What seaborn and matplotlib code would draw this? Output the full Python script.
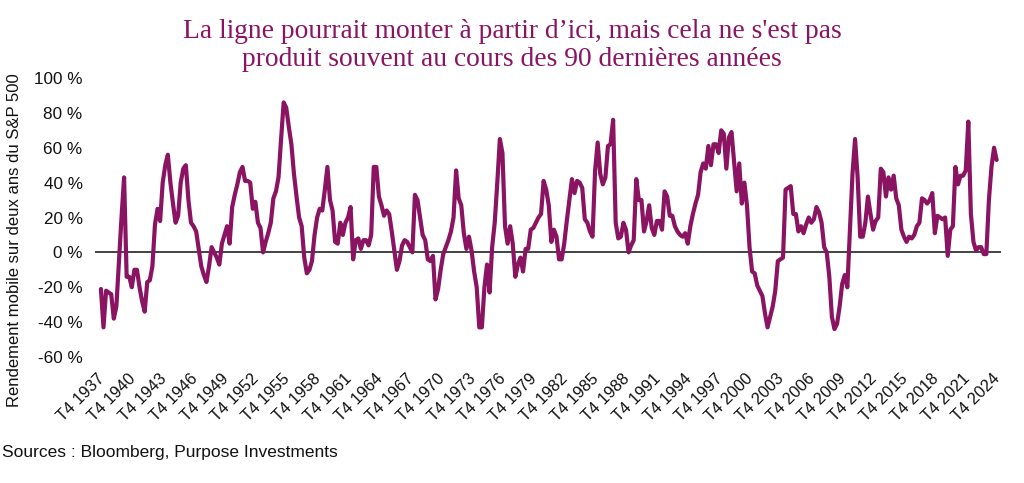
import numpy as np
import pandas as pd
import seaborn as sns
import matplotlib
matplotlib.use("Agg")
import matplotlib.pyplot as plt
from matplotlib.transforms import ScaledTranslation

# Quarterly two-year rolling return of the S&P 500 (%), T4 1937 .. T4 2024
returns = [
    -21, -43, -22, -23, -24, -38, -31, -5, 20, 43,
    -14, -14, -20, -10, -10, -20, -28, -34, -17, -16,
    -8, 16, 25, 18, 40, 50, 56, 40, 28, 17,
    21, 40, 48, 50, 30, 17, 15, 12, 2, -8,
    -13, -17, -8, 3, 0, -3, -7, 5, 10, 15,
    5, 26, 33, 39, 46, 49, 41, 41, 40, 25,
    29, 17, 14, 0, 6, 11, 17, 31, 35, 43,
    65, 86, 83, 72, 62, 45, 32, 20, 15, -3,
    -12, -10, -5, 10, 20, 25, 24, 36, 49, 30,
    24, 6, 5, 17, 10, 17, 20, 26, -4, 7,
    8, 2, 7, 7, 4, 10, 49, 49, 32, 27,
    21, 24, 22, 12, 1, -10, -5, 4, 7, 6,
    3, 0, 33, 30, 20, 10, 7, -4, -5, -2,
    -27, -21, -10, -1, 3, 7, 12, 20, 47, 31,
    27, 11, 2, 9, 1, -11, -20, -43, -43, -20,
    -7, -23, 3, 17, 40, 65, 57, 15, 5, 15,
    5, -14, -7, -3, -11, 2, 2, 13, 14, 17,
    20, 22, 41, 36, 27, 6, 13, 9, -4, -4,
    5, 18, 30, 42, 34, 41, 40, 37, 19, 17,
    12, 9, 47, 63, 45, 39, 43, 61, 62, 76,
    17, 8, 9, 17, 13, 0, 4, 7, 42, 30,
    30, 12, 18, 27, 14, 10, 18, 18, 13, 35,
    32, 21, 21, 15, 12, 10, 9, 11, 5, 15,
    22, 28, 33, 46, 51, 48, 61, 50, 62, 62,
    57, 70, 68, 48, 66, 69, 52, 35, 51, 28,
    40, 27, 3, -11, -12, -19, -22, -25, -35, -43,
    -37, -31, -22, -5, -4, -3, 36, 37, 38, 22,
    22, 12, 15, 11, 16, 20, 17, 19, 26, 23,
    17, 3, 0, -14, -37, -44, -41, -31, -18, -13,
    -20, 13, 45, 65, 43, 9, 9, 17, 32, 22,
    13, 18, 20, 48, 46, 32, 43, 36, 44, 31,
    27, 13, 9, 6, 9, 8, 10, 15, 17, 31,
    30, 28, 30, 34, 11, 21, 20, 19, 20, -2,
    13, 15, 49, 39, 44, 44, 47, 75, 22, 6,
    1, 3, 3, -1, -1, 30, 49, 60, 53,
]
first_year = 1937
tick_years = list(range(1937, 2025, 3))
y_ticks = [-60, -40, -20, 0, 20, 40, 60, 80, 100]

title = ("La ligne pourrait monter à partir d\u2019ici, mais cela ne s'est pas\n"
         "produit souvent au cours des 90 dernières années")
ylabel = "Rendement mobile sur deux ans du S&P 500"
source = "Sources : Bloomberg, Purpose Investments"

df = pd.DataFrame({"q": np.arange(len(returns)), "ret": returns})

sns.set_theme(style="white")
plt.rcParams["font.family"] = ["Liberation Sans", "DejaVu Sans"]

fig = plt.figure(figsize=(10.24, 4.83), dpi=100)
ax = fig.add_axes([95 / 1024, 1 - 357 / 483, (1001 - 95) / 1024, (357 - 78) / 483])

line_color = "#8A1462"
sns.lineplot(data=df, x="q", y="ret", ax=ax, color=line_color, linewidth=3.0)
ax.axhline(0, color="#222222", linewidth=1.2, zorder=1)

ax.set_xlim(-2.3, len(returns) + 0.7)
ax.set_ylim(-60, 100)
ax.set_yticks(y_ticks)
ax.set_yticklabels([f"{v} %" for v in y_ticks], fontsize=12.3, color="#111111")
tick_pos = [(y - first_year) * 4 for y in tick_years]
ax.set_xticks(tick_pos)
ax.set_xticklabels([f"T4 {y}" for y in tick_years], rotation=45, ha="right",
                   rotation_mode="anchor", fontsize=11.8, color="#111111")
ax.tick_params(axis="both", length=0)
ax.tick_params(axis="x", pad=10)
ax.tick_params(axis="y", pad=9)
shift = ScaledTranslation(-4 / 100, 0, fig.dpi_scale_trans)
for lab in ax.get_xticklabels():
    lab.set_transform(lab.get_transform() + shift)
ax.set_xlabel("")
ax.set_ylabel("")
for s in ax.spines.values():
    s.set_visible(False)

fig.text(15 / 1024, 1 - 240 / 483, ylabel, rotation=90, ha="center", va="center",
         fontsize=12, color="#111111")
fig.text(0.5, 1 - 19 / 483, title, ha="center", va="top", fontsize=19.8,
         family="Liberation Serif", color="#8A1462", linespacing=1.15)
fig.text(2 / 1024, 1 - 452 / 483, source, ha="left", va="center",
         fontsize=12.5, color="#111111")

fig.savefig("out.png", dpi=100)
